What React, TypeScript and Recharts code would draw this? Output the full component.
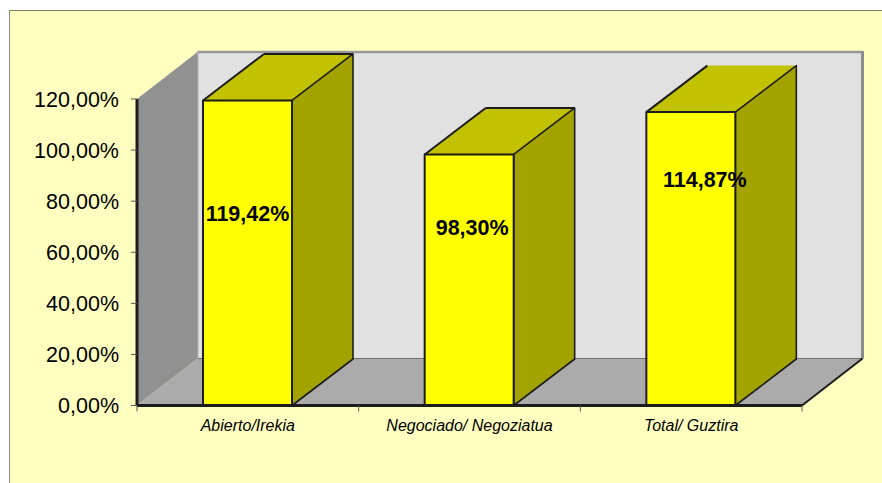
import { BarChart, Bar, XAxis, YAxis, ReferenceArea, LabelList } from 'recharts';

const categories = ['Abierto/Irekia', 'Negociado/ Negoziatua', 'Total/ Guztira'];
const percentages = [119.42, 98.3, 114.87];
const yTicks = [0, 20, 40, 60, 80, 100, 120];

const chartData = categories.map((name, i) => ({ name, value: percentages[i] }));

const WIDTH = 882;
const HEIGHT = 483;
const FONT = '"Liberation Sans", Arial, sans-serif';
const DARK = '#1c1c1c';

// oblique depth of the fake 3d box
const WALL_DX = 60.5;
const WALL_DY = -47;
const BAR_DX = 61;
const BAR_DY = -46.5;

// hand placed labels, as in the original sheet
const labelShift = [
  { dx: 0, dy: 114 },
  { dx: 3, dy: 74 },
  { dx: 14, dy: 68 },
];

const fmt = (v: number) => `${v.toFixed(2).replace('.', ',')}%`;

const pts = (list: number[][]) => list.map((p) => p.join(',')).join(' ');

function Walls(props: any) {
  const { x, y, width, height } = props;
  const right = x + width;
  const bottom = y + height;
  const backX = x + WALL_DX;
  const backY = y + WALL_DY;
  return (
    <g>
      {/* back wall */}
      <rect x={backX} y={backY} width={width} height={height} fill="#e1e1e1" />
      <line x1={backX} y1={backY} x2={right + WALL_DX} y2={backY} stroke="#979797" strokeWidth={2.5} />
      <line x1={right + WALL_DX} y1={backY - 1} x2={right + WALL_DX} y2={bottom + WALL_DY} stroke="#8c8c8c" strokeWidth={3} />
      <line x1={backX} y1={backY} x2={backX} y2={bottom + WALL_DY} stroke="#b5b5b5" strokeWidth={2} />
      {/* left wall */}
      <polygon
        points={pts([[x, y], [backX, backY], [backX, bottom + WALL_DY], [x, bottom]])}
        fill="#919191"
      />
      {/* floor */}
      <polygon
        points={pts([[x, bottom], [backX, bottom + WALL_DY], [right + WALL_DX, bottom + WALL_DY], [right, bottom]])}
        fill="#ababab"
      />
      <line x1={backX} y1={bottom + WALL_DY} x2={right + WALL_DX} y2={bottom + WALL_DY} stroke="#6f6f6f" strokeWidth={1.2} />
      <line x1={right} y1={bottom} x2={right + WALL_DX} y2={bottom + WALL_DY} stroke={DARK} strokeWidth={2} />
    </g>
  );
}

function Box3d(props: any) {
  const { x, y, width, height, index } = props;
  const r = x + width;
  const b = y + height;
  const backTop = y + BAR_DY;
  return (
    <g stroke={DARK} strokeWidth={1.6} strokeLinejoin="round">
      <polygon points={pts([[x, y], [x + BAR_DX, backTop], [r + BAR_DX, backTop], [r, y]])} fill="#c2c200" stroke="none" />
      {/* the last box has no dark back edge in the original */}
      {index !== categories.length - 1 && <line x1={x + BAR_DX} y1={backTop} x2={r + BAR_DX} y2={backTop} strokeWidth={2} />}
      <line x1={x} y1={y} x2={x + BAR_DX} y2={backTop} strokeWidth={2} />
      <polygon points={pts([[r, y], [r + BAR_DX, backTop], [r + BAR_DX, b + BAR_DY], [r, b]])} fill="#a3a300" />
      <rect x={x} y={y} width={width} height={height} fill="#ffff00" strokeWidth={2} />
    </g>
  );
}

function CategoryTick(props: any) {
  const { x, y, payload } = props;
  const half = (WIDTH - 137 - 80) / categories.length / 2;
  const axisY = y - 8;
  return (
    <g>
      <line x1={x - half} y1={axisY} x2={x - half} y2={axisY + 6} stroke="#555" strokeWidth={1} />
      {payload.index === categories.length - 1 && (
        <line x1={x + half} y1={axisY} x2={x + half} y2={axisY + 6} stroke="#555" strokeWidth={1} />
      )}
      <text x={x} y={y + 17} textAnchor="middle" fontSize={16} fontStyle="italic" fontFamily={FONT} fill="#000">
        {payload.value}
      </text>
    </g>
  );
}

function BarValueLabel(props: any) {
  const { x, y, width, value, index } = props;
  const shift = labelShift[index];
  return (
    <text
      x={x + width / 2 + shift.dx}
      y={y + shift.dy}
      textAnchor="middle"
      dominantBaseline="central"
      fontSize={21.5}
      fontWeight="bold"
      fontFamily={FONT}
      fill="#000"
    >
      {fmt(value)}
    </text>
  );
}

export default function App() {
  return (
    <div style={{ position: 'absolute', left: 0, top: 0, width: WIDTH, height: HEIGHT, background: '#fff', overflow: 'hidden' }}>
      <div
        style={{
          position: 'absolute',
          left: 9,
          top: 10,
          width: WIDTH - 9,
          height: HEIGHT - 10,
          boxSizing: 'border-box',
          background: '#ffffc0',
          borderLeft: '1px solid #8c8c8c',
          borderTop: '1px solid #80805f',
        }}
      />
      <BarChart
        width={WIDTH}
        height={HEIGHT}
        data={chartData}
        margin={{ top: 99, right: 80, bottom: 47.5, left: 0 }}
        style={{ position: 'absolute', left: 0, top: 0 }}
      >
        <ReferenceArea y1={0} y2={120} shape={Walls} ifOverflow="visible" />
        <XAxis
          dataKey="name"
          height={30}
          interval={0}
          stroke={DARK}
          strokeWidth={3}
          tickLine={false}
          tick={CategoryTick}
        />
        <YAxis
          width={137}
          domain={[0, 120]}
          ticks={yTicks}
          tickFormatter={fmt}
          stroke={DARK}
          strokeWidth={3}
          tickLine={{ stroke: '#555', strokeWidth: 1 }}
          tickSize={6}
          tickMargin={12}
          tick={{ fill: '#000', fontSize: 21.5, fontFamily: FONT }}
        />
        <Bar dataKey="value" barSize={89} shape={Box3d} isAnimationActive={false}>
          <LabelList dataKey="value" content={BarValueLabel} />
        </Bar>
      </BarChart>
    </div>
  );
}
